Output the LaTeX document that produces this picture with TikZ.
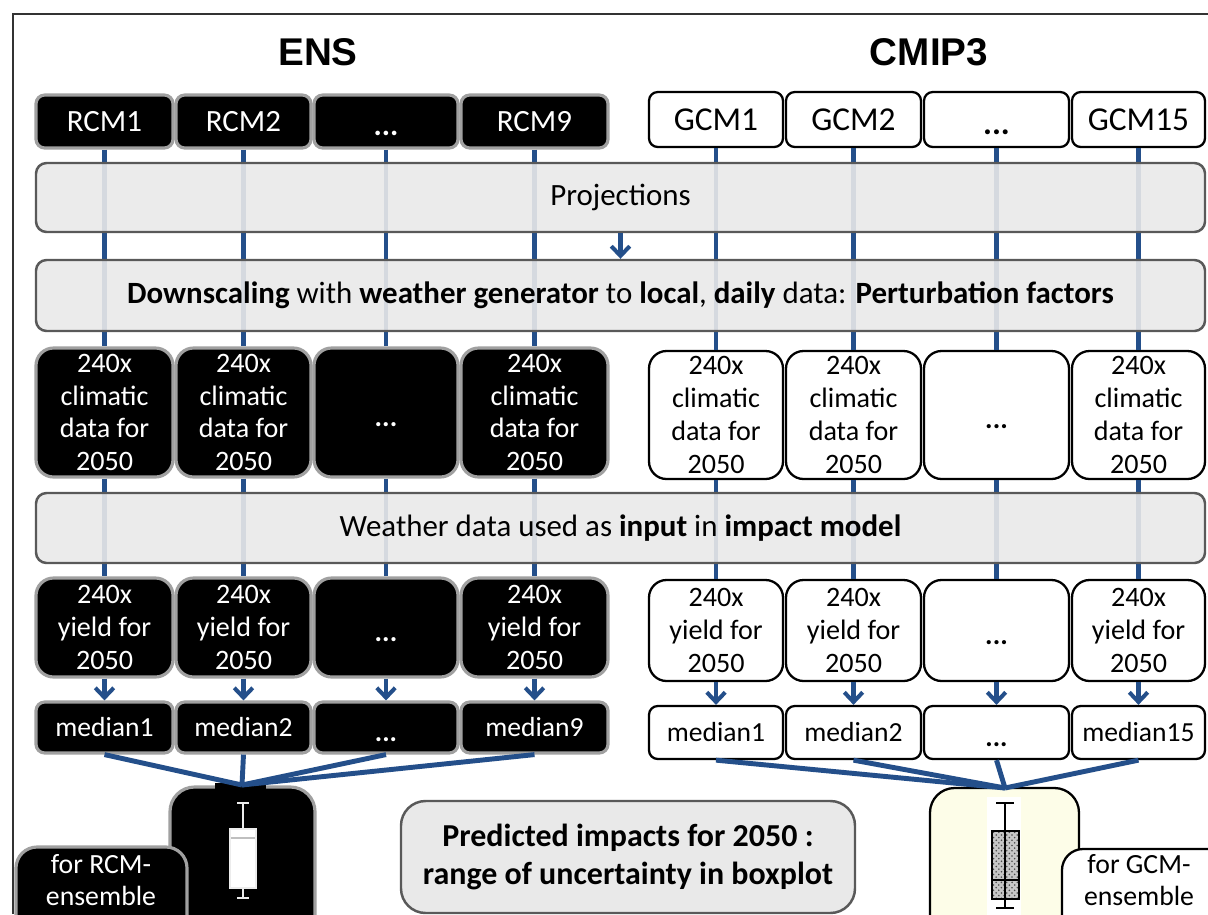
\documentclass[tikz,border=0pt]{standalone}
\usepackage{fontspec}
\setmainfont{Carlito}
\newfontfamily\titlefont{Liberation Sans}
\usetikzlibrary{arrows.meta,patterns}
\definecolor{lblue}{RGB}{36,79,138}
\definecolor{barfill}{RGB}{233,233,233}
\definecolor{barline}{RGB}{89,89,89}
\definecolor{ensline}{RGB}{160,160,160}
\definecolor{cream}{RGB}{253,253,232}
\newcommand\bx[7]{%
  \pgfmathsetmacro\bxw{(#5-#3)*0.02}%
  \pgfmathsetmacro\bxh{(#6-#4)*0.02}%
  \node[#2, minimum width=\bxw cm, minimum height=\bxh cm] (#1) at ({(#3+#5)/2},{(#4+#6)/2}) {#7};}
\newcommand\mydots{\vphantom{Ag}\smash{\raisebox{-4pt}{\textbf{...}}}}
\begin{document}
\begin{tikzpicture}[x=0.02cm,y=-0.02cm,
  every node/.style={font=\fontsize{17.6}{18.7}\selectfont},
  sm/.style={font=\fontsize{16}{18.7}\selectfont},
  med/.style={font=\fontsize{15.7}{18.7}\selectfont},
  big/.style={font=\fontsize{19}{21}\selectfont},
  ens/.style={draw=ensline, line width=1.8pt, fill=black, text=white, rounded corners=5pt, align=center, inner sep=0pt},
  ensr/.style={ens, rounded corners=10pt, sm},
  gcm/.style={draw=black, line width=1.3pt, fill=white, text=black, rounded corners=5pt, align=center, inner sep=0pt},
  gcmr/.style={gcm, rounded corners=10pt, sm},
  bar/.style={draw=barline, line width=1.4pt, fill=barfill, fill opacity=0.9, text opacity=1, rounded corners=6pt, align=center, inner sep=0pt},
  link/.style={draw=lblue, line width=2.3pt},
  arr/.style={link, -{Straight Barb[length=5.5pt,width=10.5pt]}},
  conv/.style={draw=lblue, line width=2.8pt},
  title/.style={font=\titlefont\bfseries\fontsize{22}{26}\selectfont}]
\useasboundingbox (0,0) rectangle (1208,914);
\clip (0,0) rectangle (1208,914);
\fill[white] (0,0) rectangle (1208,914);
\draw[line width=0.8pt, black!80] (13,914) -- (13,14) -- (1208,14);

\node[title] (tens) at (318,52) {ENS};
\node[title] (tcmip) at (929,52) {CMIP3};

% top row
\bx{r1}{ens}{36}{95}{173}{148}{RCM1}
\bx{r2}{ens}{176}{95}{311}{148}{RCM2}
\bx{r3}{ens}{314}{95}{458}{148}{\mydots}
\bx{r4}{ens}{461}{95}{608}{148}{RCM9}
\bx{g1}{gcm,big}{649}{92}{783}{147}{GCM1}
\bx{g2}{gcm,big}{786}{92}{921}{147}{GCM2}
\bx{g3}{gcm,big}{924}{92}{1069}{147}{\mydots}
\bx{g4}{gcm,big}{1072}{92}{1205}{147}{GCM15}

% climatic
\bx{c1}{ensr}{36}{348}{173}{477}{240x\\climatic\\data for\\2050}
\bx{c2}{ensr}{176}{348}{311}{477}{240x\\climatic\\data for\\2050}
\bx{c3}{ensr}{314}{348}{458}{477}{\mydots}
\bx{c4}{ensr}{461}{348}{608}{477}{240x\\climatic\\data for\\2050}
\bx{d1}{gcmr}{649}{351}{783}{479}{240x\\climatic\\data for\\2050}
\bx{d2}{gcmr}{786}{351}{921}{479}{240x\\climatic\\data for\\2050}
\bx{d3}{gcmr}{924}{351}{1069}{479}{\mydots}
\bx{d4}{gcmr}{1072}{351}{1205}{479}{240x\\climatic\\data for\\2050}

% yield
\bx{y1}{ensr}{36}{578}{173}{677}{240x\\yield for\\2050}
\bx{y2}{ensr}{176}{578}{311}{677}{240x\\yield for\\2050}
\bx{y3}{ensr}{314}{578}{458}{677}{\mydots}
\bx{y4}{ensr}{461}{578}{608}{677}{240x\\yield for\\2050}
\bx{z1}{gcmr}{649}{580}{783}{681}{240x\\yield for\\2050}
\bx{z2}{gcmr}{786}{580}{921}{681}{240x\\yield for\\2050}
\bx{z3}{gcmr}{924}{580}{1069}{681}{\mydots}
\bx{z4}{gcmr}{1072}{580}{1205}{681}{240x\\yield for\\2050}

% medians
\bx{m1}{ens,med}{36}{702}{173}{753}{median1}
\bx{m2}{ens,med}{176}{702}{311}{753}{median2}
\bx{m3}{ens,med}{314}{702}{458}{753}{\mydots}
\bx{m4}{ens,med}{461}{702}{608}{753}{median9}
\bx{n1}{gcm,med}{649}{706}{783}{759}{median1}
\bx{n2}{gcm,med}{786}{706}{921}{759}{median2}
\bx{n3}{gcm,med}{924}{706}{1069}{759}{\mydots}
\bx{n4}{gcm,med}{1072}{706}{1205}{759}{median15}

% vertical links
\foreach \a/\b/\c/\d in {r1/c1/y1/m1, r2/c2/y2/m2, r3/c3/y3/m3, r4/c4/y4/m4,
                         g1/d1/z1/n1, g2/d2/z2/n2, g3/d3/z3/n3, g4/d4/z4/n4}{
  \draw[link] (\a.south) -- (\b.north);
  \draw[link] (\b.south) -- (\c.north);
  \draw[arr] (\c.south) -- (\d.north);
}

% bars
\bx{proj}{bar}{36}{163}{1205}{232}{Projections}
\bx{down}{bar}{36}{260}{1205}{331}{\textbf{Downscaling} with \textbf{weather generator} to \textbf{local}, \textbf{daily} data: \textbf{Perturbation factors}}
\bx{wdat}{bar}{36}{493}{1205}{563}{Weather data used as \textbf{input} in \textbf{impact model}}
\draw[arr] (proj.south) -- (down.north);

% boxplot boxes
\bx{ebp}{ens, rounded corners=14pt}{170}{787}{315}{960}{}
\bx{gbp}{gcm, fill=cream, rounded corners=14pt}{930}{788}{1079}{960}{}
\fill[black] (215,783) rectangle (266,791);
\coordinate (ec) at (242,785);
\coordinate (gc) at (1005,788);
\foreach \m in {m1,m2,m3,m4}{\draw[conv] (\m.south) -- (ec);}
\foreach \m in {n1,n2,n3,n4}{\draw[conv] (\m.south) -- (gc);}

% ENS boxplot glyph
\begin{scope}[white!85!gray, line width=1.1pt]
  \draw (237,803) -- (249,803) (243,803) -- (243,829);
  \draw[fill=white] (230,829) rectangle (256,888);
  \draw[gray!50] (231,838) -- (255,838);
  \draw (243,888) -- (243,898) (237,898) -- (249,898);
\end{scope}
% GCM boxplot glyph
\fill[white] (987,797) rectangle (1021,930);
\begin{scope}[black, line width=1.1pt]
  \draw (996,803) -- (1014,803) (1005,803) -- (1005,831);
  \fill[gray!45] (992,831) rectangle (1019,899);
  \fill[pattern=crosshatch dots, pattern color=black!70] (992,831) rectangle (1019,899);
  \draw (992,831) rectangle (1019,899);
  \draw (1005,831) -- (1005,899) (992,880) -- (1019,880);
  \draw (1005,899) -- (1005,908) (996,908) -- (1014,908);
\end{scope}

% labels
\bx{elab}{ens, rounded corners=12pt}{16}{847}{187}{960}{}
\node[text=white, align=center, font=\fontsize{15.8}{18.3}\selectfont] (elabt) at (101,880) {for RCM-\\ensemble};
\bx{glab}{gcm, rounded corners=12pt}{1062}{849}{1240}{960}{}
\node[align=center, font=\fontsize{15.8}{18.3}\selectfont] (glabt) at (1139,880) {for GCM-\\ensemble};

\bx{pred}{bar, fill opacity=1, rounded corners=14pt, font=\fontsize{18.2}{21.5}\selectfont}{401}{801}{855}{913}{\textbf{Predicted impacts for 2050 :}\\\textbf{range of uncertainty in boxplot}}
\end{tikzpicture}
\end{document}
